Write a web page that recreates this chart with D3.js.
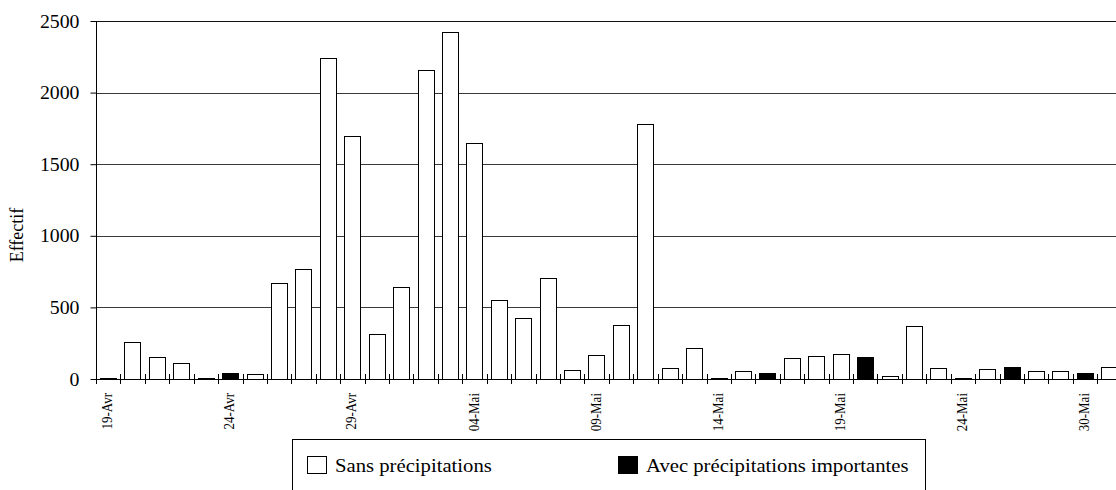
<!DOCTYPE html>
<html>
<head>
<meta charset="utf-8">
<script src="https://cdn.jsdelivr.net/npm/d3@7"></script>
<style>
  html, body { margin: 0; padding: 0; background: #fff; }
  svg { display: block; }
  svg text { font-family: "Liberation Serif", "Times New Roman", "DejaVu Serif", serif !important; fill: #000; }
</style>
</head>
<body>
<svg id="chart" width="1116" height="490"></svg>
<script>
// Daily counts; each day belongs to one of the two weather groups (null = other group).
const categories = [
  "19-Avr","20-Avr","21-Avr","22-Avr","23-Avr","24-Avr","25-Avr","26-Avr","27-Avr","28-Avr",
  "29-Avr","30-Avr","01-Mai","02-Mai","03-Mai","04-Mai","05-Mai","06-Mai","07-Mai","08-Mai",
  "09-Mai","10-Mai","11-Mai","12-Mai","13-Mai","14-Mai","15-Mai","16-Mai","17-Mai","18-Mai",
  "19-Mai","20-Mai","21-Mai","22-Mai","23-Mai","24-Mai","25-Mai","26-Mai","28-Mai","29-Mai",
  "30-Mai","31-Mai"
];
const sansPrecipitations = [
  8, 256, 151, 110, 10, null, 37, 673, 766, 2240,
  1700, 314, 642, 2160, 2425, 1645, 549, 424, 703, 61,
  170, 375, 1780, 75, 214, 8, 57, null, 147, 158,
  177, null, 18, 370, 75, 8, 68, null, 54, 54,
  null, 82
];
const avecPrecipitations = [
  null, null, null, null, null, 42, null, null, null, null,
  null, null, null, null, null, null, null, null, null, null,
  null, null, null, null, null, null, null, 44, null, null,
  null, 154, null, null, null, null, null, 84, null, null,
  40, null
];
const yTicks = [0, 500, 1000, 1500, 2000, 2500];
const labelEvery = 5;
const seriesNames = ["Sans précipitations", "Avec précipitations importantes"];
const seriesFill = ["#ffffff", "#000000"];

const serif = '"Liberation Serif", "Times New Roman", "DejaVu Serif", serif';
const svg = d3.select("#chart");
const plotLeft = 96, plotTop = 21, plotBottom = 379;
const step = 24.42;
const plotRight = plotLeft + step * categories.length;
const textStretch = 1.1;    // wide serif lettering
const legendStretch = 1.15;

const x = d3.scaleBand()
  .domain(categories)
  .range([plotLeft, plotRight])
  .paddingInner(0.333)
  .paddingOuter(0.1665);
const y = d3.scaleLinear().domain([0, 2500]).range([plotBottom, plotTop]);

// horizontal gridlines
svg.append("g")
  .selectAll("line")
  .data(yTicks.filter(d => d > 0))
  .join("line")
  .attr("x1", plotLeft).attr("x2", 1116)
  .attr("y1", d => Math.round(y(d)) + 0.5).attr("y2", d => Math.round(y(d)) + 0.5)
  .attr("stroke", d => d === 2500 ? "#111" : "#3a3a3a")
  .attr("stroke-width", 1);

// bars
const rows = categories.map((c, i) => {
  const s = sansPrecipitations[i], a = avecPrecipitations[i];
  return s != null ? { c, v: s, k: 0 } : { c, v: a, k: 1 };
});
svg.append("g")
  .selectAll("rect")
  .data(rows)
  .join("rect")
  .attr("x", d => Math.round(x(d.c)) + 0.5)
  .attr("width", Math.round(x.bandwidth()))
  .attr("y", d => Math.round(y(d.v)) + 0.5)
  .attr("height", d => Math.max(1, Math.round(y(0)) - Math.round(y(d.v))))
  .attr("fill", d => seriesFill[d.k])
  .attr("stroke", "#000")
  .attr("stroke-width", 1);

// y axis
const yAxis = svg.append("g").attr("transform", `translate(${plotLeft + 0.5},0)`)
  .call(d3.axisLeft(y).tickValues(yTicks).tickSize(6).tickFormat(d3.format("d")))
  .attr("font-family", serif);
yAxis.select(".domain").attr("stroke", "#000").attr("d", `M0,${plotTop}V${plotBottom}`);
yAxis.selectAll(".tick line").attr("stroke", "#000");
yAxis.selectAll(".tick text")
  .attr("x", null).attr("dy", null)
  .attr("font-size", 18)
  .attr("font-family", serif)
  .attr("text-anchor", "end")
  .attr("dominant-baseline", "central")
  .attr("transform", `translate(-17,0) scale(${textStretch},1)`);

// x axis: baseline with crossing ticks between categories
const xg = svg.append("g");
xg.append("line")
  .attr("x1", plotLeft).attr("x2", 1116)
  .attr("y1", Math.round(y(0)) + 0.5).attr("y2", Math.round(y(0)) + 0.5)
  .attr("stroke", "#000");
xg.selectAll("line.tk")
  .data(d3.range(categories.length + 1))
  .join("line")
  .attr("class", "tk")
  .attr("x1", i => Math.round(plotLeft + i * x.step()) + 0.5)
  .attr("x2", i => Math.round(plotLeft + i * x.step()) + 0.5)
  .attr("y1", y(0) - 5).attr("y2", y(0) + 5)
  .attr("stroke", "#000");
xg.selectAll("text")
  .data(categories.filter((c, i) => i % labelEvery === 0))
  .join("text")
  .attr("transform", c => `translate(${x(c) + x.bandwidth() / 2 + 4},${plotBottom + 14}) scale(${textStretch},1) rotate(-90)`)
  .attr("text-anchor", "end")
  .attr("font-family", serif)
  .attr("font-size", 13)
  .text(c => c);

// y axis title
svg.append("text")
  .attr("transform", `translate(23,235) scale(${textStretch},1) rotate(-90)`)
  .attr("text-anchor", "middle")
  .attr("font-family", serif)
  .attr("font-size", 18)
  .text("Effectif");

// legend
const lg = svg.append("g");
lg.append("rect")
  .attr("x", 292.5).attr("y", 439.5).attr("width", 633).attr("height", 60)
  .attr("fill", "#fff").attr("stroke", "#000");
const legendX = [307, 618];
seriesNames.forEach((name, k) => {
  lg.append("rect")
    .attr("x", legendX[k] + 0.5).attr("y", 456.5).attr("width", 19).attr("height", 17)
    .attr("fill", seriesFill[k]).attr("stroke", "#000");
  lg.append("text")
    .attr("transform", `translate(${legendX[k] + 28},472) scale(${legendStretch},1)`)
    .attr("font-family", serif)
    .attr("font-size", 18)
    .text(name);
});
</script>
</body>
</html>
